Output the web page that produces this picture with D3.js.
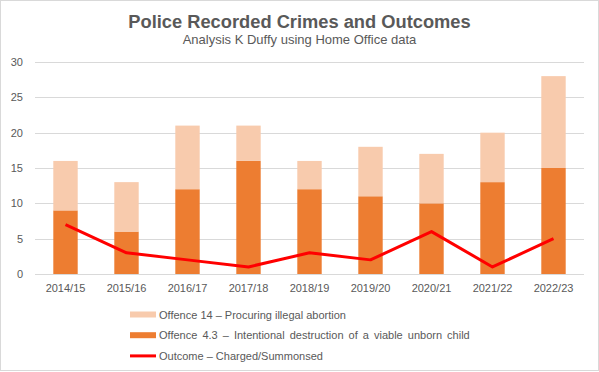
<!DOCTYPE html>
<html>
<head>
<meta charset="utf-8">
<script src="https://cdn.jsdelivr.net/npm/d3@7"></script>
<style>
  body { margin: 0; background: #fff; }
  svg text { font-family: "Liberation Sans", Arial, sans-serif; fill: #595959; }
</style>
</head>
<body>
<script>
// data
var years = ["2014/15", "2015/16", "2016/17", "2017/18", "2018/19", "2019/20", "2020/21", "2021/22", "2022/23"];
var offence43 = [9, 6, 12, 16, 12, 11, 10, 13, 15];   // Intentional destruction of a viable unborn child
var offence14 = [7, 7, 9, 5, 4, 7, 7, 7, 13];         // Procuring illegal abortion
var charged = [7, 3, 2, 1, 3, 2, 6, 1, 5];            // Outcome - Charged/Summonsed
var yTicks = [0, 5, 10, 15, 20, 25, 30];

var W = 599, H = 372;
var margin = {top: 62, right: 15, bottom: 98, left: 35},
    width = W - margin.left - margin.right,
    height = H - margin.top - margin.bottom;

var svg = d3.select("body").append("svg")
    .attr("width", W)
    .attr("height", H);

// chart frame
svg.append("rect")
    .attr("x", 0.5).attr("y", 0.5)
    .attr("width", W - 1).attr("height", H - 2)
    .attr("fill", "#fff")
    .attr("stroke", "#d9d9d9");

svg.append("text")
    .attr("x", W / 2).attr("y", 27.5)
    .attr("text-anchor", "middle")
    .style("font-size", "18.3px")
    .style("font-weight", "bold")
    .text("Police Recorded Crimes and Outcomes");

svg.append("text")
    .attr("x", W / 2).attr("y", 44)
    .attr("text-anchor", "middle")
    .style("font-size", "13px")
    .text("Analysis K Duffy using Home Office data");

var g = svg.append("g")
    .attr("transform", "translate(" + margin.left + "," + margin.top + ")");

var x = d3.scaleBand().domain(years).range([0, width]).paddingInner(0.6).paddingOuter(0.3);
var y = d3.scaleLinear().domain([0, 30]).range([height, 0]);

// gridlines
g.append("g")
    .selectAll("line")
    .data(yTicks)
    .enter().append("line")
    .attr("x1", 0).attr("x2", width)
    .attr("y1", function(d) { return Math.round(y(d)) + 0.5; })
    .attr("y2", function(d) { return Math.round(y(d)) + 0.5; })
    .attr("stroke", "#d9d9d9")
    .attr("stroke-width", 1);

// y axis labels
var yAxis = d3.axisLeft(y).tickValues(yTicks).tickSize(0).tickPadding(12);
g.append("g")
    .attr("class", "yAxis")
    .call(yAxis)
    .call(function(s) { s.select(".domain").remove(); })
    .selectAll("text")
    .style("font-size", "11px")
    .attr("fill", "#595959");

// stacked bars
var rows = years.map(function(yr, i) { return {year: yr, a: offence43[i], b: offence14[i]}; });
var stack = d3.stack().keys(["a", "b"])(rows);
var colors = {a: "#ed7d31", b: "#f8cbad"};

g.selectAll(".layer")
    .data(stack)
    .enter().append("g")
    .attr("class", "layer")
    .attr("fill", function(d) { return colors[d.key]; })
    .selectAll("rect")
    .data(function(d) { return d; })
    .enter().append("rect")
    .attr("x", function(d) { return x(d.data.year); })
    .attr("width", x.bandwidth())
    .attr("y", function(d) { return y(d[1]); })
    .attr("height", function(d) { return y(d[0]) - y(d[1]); });

// x axis
var xAxis = d3.axisBottom(x).tickSize(0).tickPadding(10);
g.append("g")
    .attr("class", "xAxis")
    .attr("transform", "translate(0," + height + ")")
    .call(xAxis)
    .call(function(s) { s.select(".domain").remove(); })
    .selectAll("text")
    .style("font-size", "11px")
    .attr("fill", "#595959");

// outcome line
var line = d3.line()
    .x(function(d, i) { return x(years[i]) + x.bandwidth() / 2; })
    .y(function(d) { return y(d); });

g.append("path")
    .datum(charged)
    .attr("fill", "none")
    .attr("stroke", "#ff0000")
    .attr("stroke-width", 3)
    .attr("stroke-linejoin", "round")
    .attr("d", line);

// legend
var legend = [
  {label: "Offence 14 \u2013 Procuring illegal abortion", type: "bar", color: "#f8cbad"},
  {label: "Offence 4.3 \u2013 Intentional destruction of a viable unborn child", type: "bar", color: "#ed7d31"},
  {label: "Outcome \u2013 Charged/Summonsed", type: "line", color: "#ff0000"}
];

var lg = svg.append("g").attr("transform", "translate(130,314.5)");
var item = lg.selectAll("g")
    .data(legend)
    .enter().append("g")
    .attr("transform", function(d, i) { return "translate(0," + (i * 20.7) + ")"; });

item.filter(function(d) { return d.type === "bar"; })
    .append("rect")
    .attr("x", 0).attr("y", -3)
    .attr("width", 26).attr("height", 6)
    .attr("fill", function(d) { return d.color; });

item.filter(function(d) { return d.type === "line"; })
    .append("line")
    .attr("x1", 0).attr("x2", 26)
    .attr("y1", 0).attr("y2", 0)
    .attr("stroke", function(d) { return d.color; })
    .attr("stroke-width", 3);

// the long label is set a little looser in the original
item.append("text")
    .attr("x", 29).attr("y", 4)
    .style("font-size", "11px")
    .style("word-spacing", function(d, i) { return i === 1 ? "2px" : null; })
    .text(function(d) { return d.label; });
</script>
</body>
</html>
